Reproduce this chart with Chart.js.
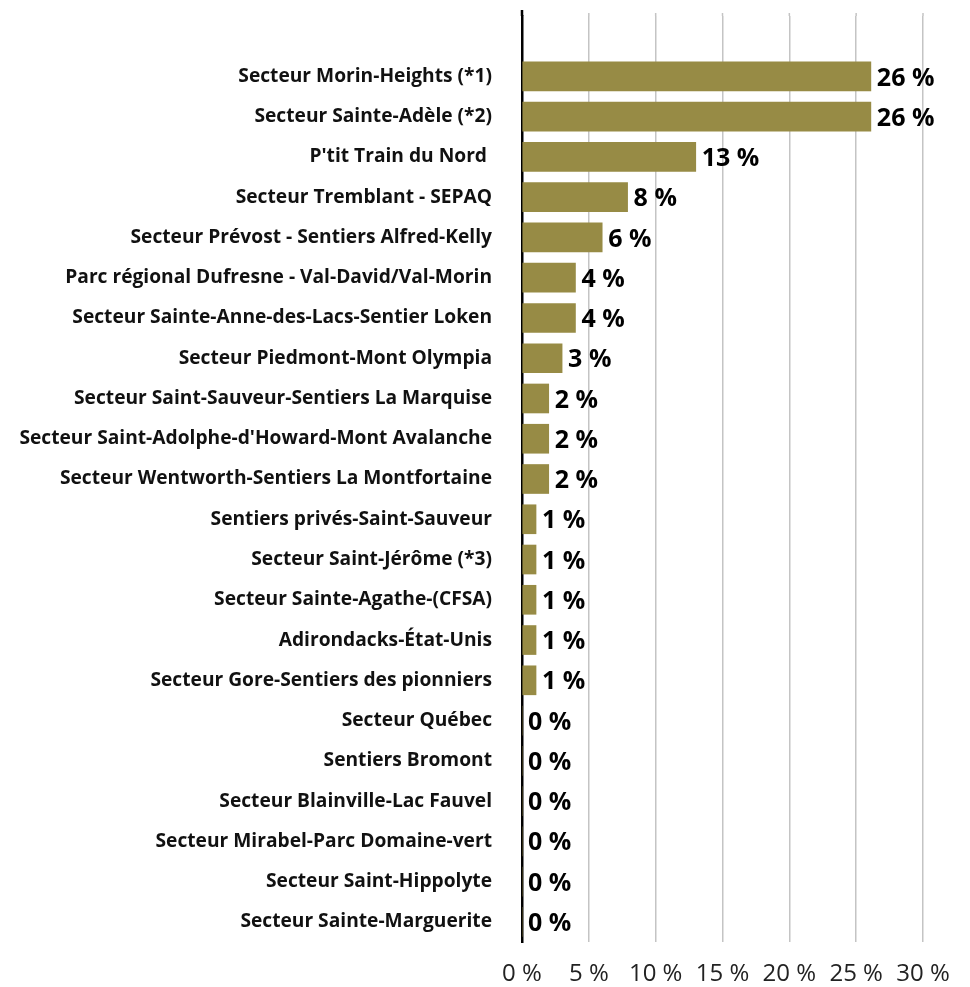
<!DOCTYPE html>
<html>
<head>
<meta charset="utf-8">
<script src="https://cdn.jsdelivr.net/npm/chart.js@4"></script>
<style>
  html, body { margin: 0; padding: 0; background: #fff; }
  #wrap { width: 970px; height: 987px; }
</style>
</head>
<body>
<div id="wrap"><canvas id="chart" width="970" height="987"></canvas></div>
<script>
/* ── data ─────────────────────────────────────────────────────── */
const categories = [
  "",
  "Secteur Morin-Heights (*1)",
  "Secteur Sainte-Adèle (*2)",
  "P'tit Train du Nord ",
  "Secteur Tremblant - SEPAQ",
  "Secteur Prévost - Sentiers Alfred-Kelly",
  "Parc régional Dufresne - Val-David/Val-Morin",
  "Secteur Sainte-Anne-des-Lacs-Sentier Loken",
  "Secteur Piedmont-Mont Olympia",
  "Secteur Saint-Sauveur-Sentiers La Marquise",
  "Secteur Saint-Adolphe-d'Howard-Mont Avalanche",
  "Secteur Wentworth-Sentiers La Montfortaine",
  "Sentiers privés-Saint-Sauveur",
  "Secteur Saint-Jérôme (*3)",
  "Secteur Sainte-Agathe-(CFSA)",
  "Adirondacks-État-Unis",
  "Secteur Gore-Sentiers des pionniers",
  "Secteur Québec",
  "Sentiers Bromont",
  "Secteur Blainville-Lac Fauvel",
  "Secteur Mirabel-Parc Domaine-vert",
  "Secteur Saint-Hippolyte",
  "Secteur Sainte-Marguerite"
];
const values = [null, 26.1, 26.1, 13.0, 7.9, 6.0, 4.0, 4.0, 3.0, 2.0, 2.0, 2.0,
                1.05, 1.05, 1.05, 1.05, 1.05, 0, 0, 0, 0, 0, 0];
const valueLabels = ["", "26 %", "26 %", "13 %", "8 %", "6 %", "4 %", "4 %", "3 %", "2 %", "2 %", "2 %",
                     "1 %", "1 %", "1 %", "1 %", "1 %", "0 %", "0 %", "0 %", "0 %", "0 %", "0 %"];
const xTicks = [0, 5, 10, 15, 20, 25, 30];

const FONT = "'Open Sans', 'Noto Sans', sans-serif";

/* ── value labels at bar end ─────────────────────────────────── */
const barLabels = {
  id: "barLabels",
  afterDatasetsDraw(chart) {
    const ctx = chart.ctx;
    const meta = chart.getDatasetMeta(0);
    ctx.save();
    ctx.font = "bold 25px " + FONT;
    ctx.fillStyle = "#000";
    ctx.textBaseline = "middle";
    ctx.textAlign = "left";
    meta.data.forEach((bar, i) => {
      if (!valueLabels[i]) return;
      ctx.fillText(valueLabels[i], bar.x + 6, bar.y + 2);
    });
    ctx.restore();
  }
};

/* ── gridlines reach a bit above the first category ──────────── */
const gridTop = {
  id: "gridTop",
  beforeDatasetsDraw(chart) {
    const { ctx, chartArea, scales } = chart;
    ctx.save();
    ctx.strokeStyle = "#c4c4c4";
    ctx.lineWidth = 1.5;
    xTicks.forEach(v => {
      if (v === 0) return;
      const x = scales.x.getPixelForValue(v);
      ctx.beginPath();
      ctx.moveTo(x, chartArea.top - 3);
      ctx.lineTo(x, chartArea.top);
      ctx.stroke();
    });
    ctx.strokeStyle = "#000";
    ctx.lineWidth = 2.5;
    const x0 = scales.x.getPixelForValue(0);
    ctx.beginPath();
    ctx.moveTo(x0, chartArea.top - 6);
    ctx.lineTo(x0, chartArea.top);
    ctx.stroke();
    ctx.restore();
  }
};

new Chart(document.getElementById("chart"), {
  type: "bar",
  data: {
    labels: categories,
    datasets: [{
      data: values,
      backgroundColor: "#978b45",
      borderWidth: 0,
      barThickness: 29
    }]
  },
  options: {
    indexAxis: "y",
    responsive: false,
    animation: false,
    layout: { padding: { top: 16, right: 47, bottom: 0, left: 0 } },
    plugins: { legend: { display: false }, tooltip: { enabled: false } },
    scales: {
      x: {
        min: 0, max: 30,
        afterBuildTicks: axis => { axis.ticks = xTicks.map(v => ({ value: v })); },
        afterFit: axis => { axis.height = 45; axis.paddingLeft = 0; axis.paddingRight = 0; },
        border: { display: false },
        grid: {
          color: ctx => ctx.tick && ctx.tick.value === 0 ? "rgba(0,0,0,0)" : "#c4c4c4",
          lineWidth: 1.5,
          drawTicks: false
        },
        ticks: {
          padding: 18,
          color: "#222",
          font: { family: FONT, size: 24 },
          callback: v => v + " %"
        }
      },
      y: {
        afterFit: axis => { axis.width = 522; axis.paddingTop = 0; axis.paddingBottom = 0; },
        border: { display: true, color: "#000", width: 2.5 },
        grid: { display: false },
        ticks: {
          padding: 22,
          color: "#111",
          font: { family: FONT, size: 19.2, weight: "bold" },
          autoSkip: false
        }
      }
    }
  },
  plugins: [barLabels, gridTop]
});
</script>
</body>
</html>
